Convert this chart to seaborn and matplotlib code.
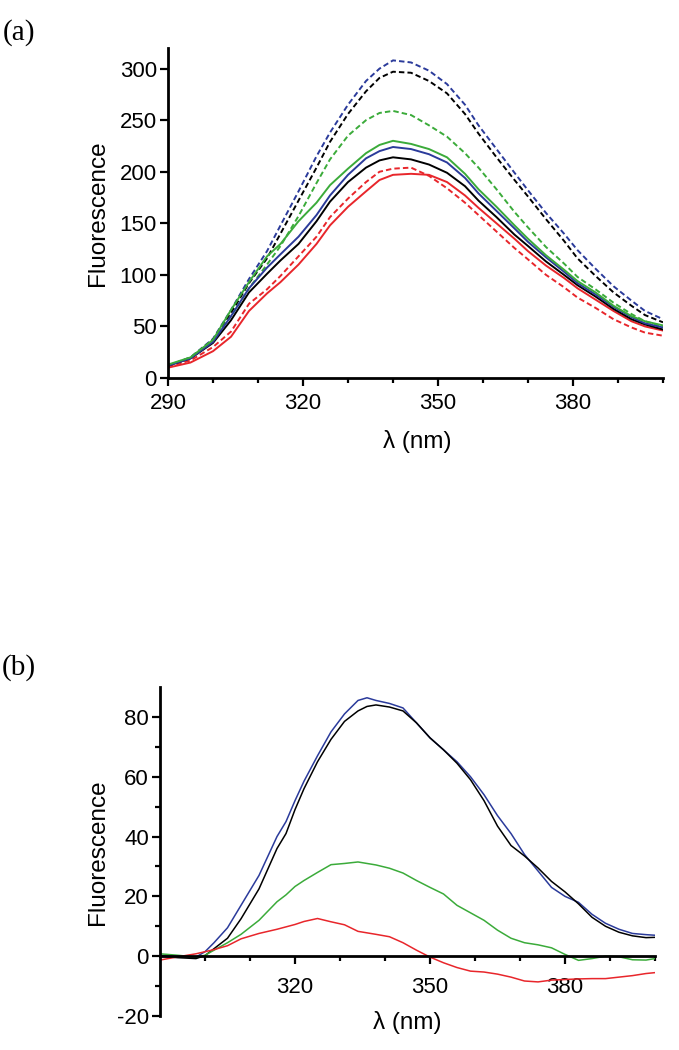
import matplotlib
matplotlib.use("Agg")
import matplotlib.pyplot as plt
import numpy as np
import pandas as pd
import seaborn as sns

# panel (a): emission spectra, solid and dashed
wl_a = [290, 295, 300, 304, 308, 312, 315, 319, 323, 326, 330, 334, 337, 340, 344,
        348, 352, 356, 359, 363, 367, 370, 374, 378, 381, 385, 389, 393, 396, 400]

blue_dash = [12, 20, 38, 66, 96, 123, 148, 181, 215, 238, 265, 288, 300, 308, 306,
             298, 285, 265, 245, 222, 199, 182, 160, 140, 124, 106, 89, 75, 65, 57]
black_dash = [12, 19, 37, 63, 92, 116, 140, 172, 204, 229, 256, 278, 291, 297, 296,
              288, 276, 256, 237, 214, 192, 176, 154, 133, 116, 99, 83, 70, 61, 54]
green_dash = [12, 20, 37, 60, 87, 110, 128, 157, 189, 212, 235, 250, 257, 259, 255,
              245, 234, 218, 204, 183, 161, 146, 127, 111, 98, 86, 73, 62, 55, 50]
red_dash = [11, 17, 30, 45, 72, 86, 99, 118, 137, 156, 174, 190, 200, 203, 204,
            196, 184, 170, 158, 142, 126, 115, 100, 88, 78, 68, 57, 49, 44, 41]
green_solid = [13, 20, 37, 66, 93, 118, 130, 152, 170, 187, 203, 218, 226, 230, 227,
               222, 214, 198, 183, 166, 148, 135, 119, 105, 94, 83, 70, 60, 55, 51]
blue_solid = [12, 19, 35, 60, 87, 107, 120, 137, 158, 177, 197, 213, 220, 224, 222,
              217, 209, 194, 179, 162, 145, 132, 117, 103, 92, 81, 69, 59, 53, 49]
black_solid = [12, 19, 34, 56, 83, 101, 114, 130, 152, 171, 190, 204, 211, 214, 212,
               207, 199, 186, 172, 156, 139, 128, 113, 100, 90, 79, 67, 57, 52, 47]
red_solid = [10, 15, 26, 40, 65, 82, 93, 110, 130, 148, 166, 181, 192, 197, 198,
             197, 190, 177, 165, 150, 135, 123, 109, 97, 87, 76, 65, 55, 50, 46]

# panel (b): difference spectra
wl_b = [290, 294, 298, 300, 302, 305, 308, 312, 316, 318, 320, 322, 325, 328, 331,
        334, 336, 338, 341, 344, 347, 350, 353, 356, 359, 362, 365, 368, 371, 374,
        377, 380, 383, 386, 389, 392, 395, 398, 400]

blue_b = [0.3, 0, -0.3, 1.5, 4.5, 9.5, 17, 27, 40, 45, 52, 58.5, 67, 75, 81,
          85.5, 86.4, 85.5, 84.5, 83, 78, 73, 69, 65, 60, 54, 47, 41, 34, 28.5,
          23, 20, 18, 14, 11, 9, 7.6, 7.2, 7]
black_b = [0, -0.5, -0.8, 0.2, 2.5, 6, 12.5, 22.5, 36, 41, 49, 56, 65, 72.5, 78.5,
           82, 83.5, 84, 83.3, 82, 78, 73, 69, 64.5, 59, 52, 43.5, 37, 33.5, 29.5,
           25, 21.5, 17.5, 13, 10, 8, 6.8, 6.2, 6.3]
green_b = [0.8, 0.3, -0.3, 0.3, 2, 4.5, 7.3, 12, 18.2, 20.5, 23.3, 25.3, 28, 30.6, 31,
           31.5, 31, 30.5, 29.4, 27.8, 25.3, 23, 20.8, 17, 14.5, 12, 8.7, 6, 4.5, 3.8,
           2.8, 0.6, -1.4, -0.8, 0, -0.2, -1.2, -1.3, -0.8]
red_b = [-1.3, -0.2, 0.8, 1.5, 2.2, 3.5, 5.8, 7.6, 9, 9.8, 10.6, 11.6, 12.6, 11.5, 10.5,
         8.3, 7.8, 7.3, 6.5, 4.5, 2, -0.3, -2.2, -3.8, -5, -5.3, -6, -7, -8.3, -8.6,
         -8, -7.8, -7.6, -7.5, -7.5, -7, -6.5, -5.8, -5.5]

BLUE = '#2b3b9b'
BLACK = '#000000'
GREEN = '#3bab3a'
RED = '#e8262b'

sns.set_style("ticks")
plt.rcParams['font.family'] = ['Liberation Sans', 'DejaVu Sans']
plt.rcParams['axes.unicode_minus'] = False
for key in ('text.color', 'axes.labelcolor', 'xtick.color', 'ytick.color'):
    plt.rcParams[key] = 'black'

fig = plt.figure(figsize=(6.79, 10.5), dpi=100)
ax_a = fig.add_axes([168/679, 1 - 378/1050, 495/679, 330/1050])
ax_b = fig.add_axes([160/679, 1 - 1016/1050, 495/679, 329/1050])

df_a = pd.DataFrame({'wl': wl_a,
                     'blue_dash': blue_dash, 'black_dash': black_dash,
                     'green_dash': green_dash, 'red_dash': red_dash,
                     'green_solid': green_solid, 'blue_solid': blue_solid,
                     'black_solid': black_solid, 'red_solid': red_solid})

series_a = [('blue_dash', BLUE, True), ('black_dash', BLACK, True),
            ('green_dash', GREEN, True), ('red_dash', RED, True),
            ('red_solid', RED, False), ('black_solid', BLACK, False),
            ('blue_solid', BLUE, False), ('green_solid', GREEN, False)]

for col, c, dashed in series_a:
    sns.lineplot(data=df_a, x='wl', y=col, color=c, lw=1.4, ax=ax_a,
                 estimator=None, sort=False)
    if dashed:
        ax_a.lines[-1].set_dashes((2.8, 1.6))

df_b = pd.DataFrame({'wl': wl_b, 'blue': blue_b, 'black': black_b,
                     'green': green_b, 'red': red_b})
for col, c in [('blue', BLUE), ('black', BLACK), ('green', GREEN), ('red', RED)]:
    sns.lineplot(data=df_b, x='wl', y=col, color=c, lw=1.1, ax=ax_b,
                 estimator=None, sort=False)

for ax in (ax_a, ax_b):
    sns.despine(ax=ax)
    ax.spines['left'].set_linewidth(2)
    ax.spines['bottom'].set_linewidth(2)
    ax.spines['left'].set_color('black')
    ax.spines['bottom'].set_color('black')
    ax.set_xlim(290, 400)
    ax.tick_params(axis='both', which='major', length=6, width=1.6,
                   labelsize=16, direction='out', color='black')
    ax.tick_params(axis='both', which='minor', length=3.5, width=1.6,
                   direction='out', color='black')
    ax.tick_params(axis='y', which='major', pad=2)
    ax.set_xlabel('λ (nm)', fontsize=17.5)
    ax.set_ylabel('Fluorescence', fontsize=17.5)

# panel (a) axes
ax_a.set_ylim(0, 320)
ax_a.set_xticks([290, 320, 350, 380])
ax_a.set_xticks(np.arange(290, 401, 10), minor=True)
ax_a.set_yticks(np.arange(0, 301, 50))
ax_a.tick_params(axis='x', which='major', pad=5)
ax_a.xaxis.set_label_coords(0.503, -0.158)
ax_a.yaxis.set_label_coords(-0.119, 0.5)

# panel (b) axes, x axis crossing at zero
ax_b.set_ylim(-20, 90)
ax_b.spines['bottom'].set_position(('data', 0))
ax_b.set_xticks([320, 350, 380])
ax_b.set_xticks(np.arange(300, 401, 10), minor=True)
ax_b.set_yticks(np.arange(-20, 81, 20))
ax_b.set_yticks(np.arange(-10, 81, 20), minor=True)
ax_b.tick_params(axis='x', which='major', pad=9)
ax_b.xaxis.set_label_coords(0.499, 0.015)
ax_b.yaxis.set_label_coords(-0.103, 0.498)

fig.text(19/679, 1 - 33/1050, '(a)', fontsize=21, family='Liberation Serif',
         ha='center', va='center')
fig.text(19/679, 1 - 668/1050, '(b)', fontsize=21, family='Liberation Serif',
         ha='center', va='center')

fig.savefig('out.png', dpi=100)
